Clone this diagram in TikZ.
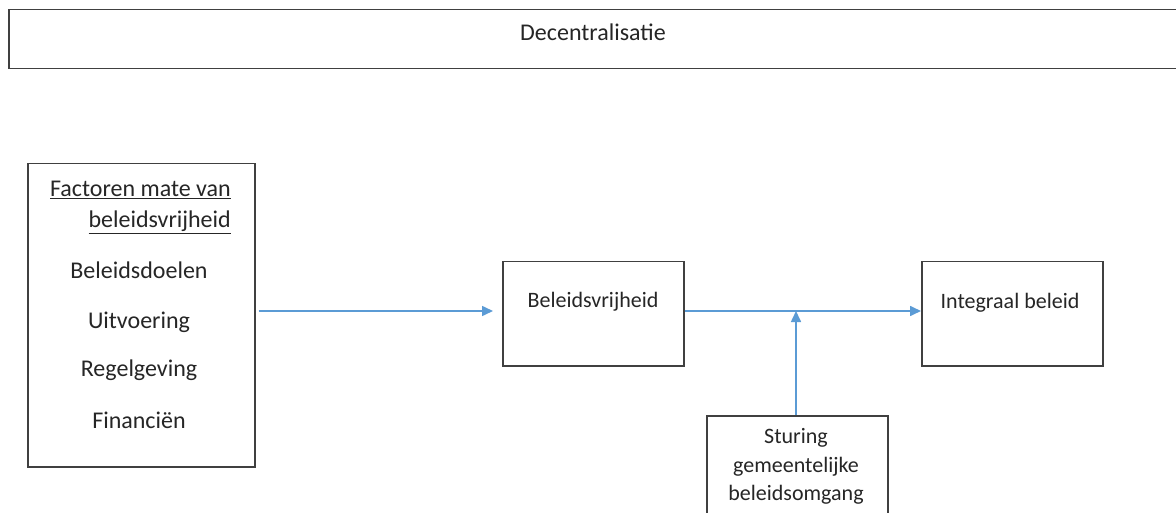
\documentclass[tikz,border=0pt]{standalone}
\usepackage{fontspec}
\setmainfont{Carlito}
\usetikzlibrary{arrows.meta,calc}
\definecolor{arrblue}{RGB}{91,155,213}
\definecolor{boxgray}{RGB}{64,64,64}
\definecolor{txt}{RGB}{38,38,38}
\begin{document}
\begin{tikzpicture}[x=1pt,y=-1pt,
  box/.style={draw=boxgray,line width=1.5pt,fill=white,inner sep=0pt,anchor=north west},
  lbl/.style={text=txt,font=\fontsize{24}{28}\selectfont,inner sep=0pt},
  slbl/.style={text=txt,font=\fontsize{22}{26}\selectfont,inner sep=0pt},
  arr/.style={draw=arrblue,line width=1.6pt,-{Triangle[length=11pt,width=10pt]}}]
\useasboundingbox (0,0) rectangle (1176,513);
\clip (0,0) rectangle (1176,513);
\fill[white] (0,0) rectangle (1176,513);
% boxes
\node[box,minimum width=1200pt,minimum height=59pt] (dec) at (8,9) {};
\node[box,minimum width=227pt,minimum height=303pt] (fac) at (27,163) {};
\node[box,minimum width=181pt,minimum height=104pt] (bv) at (502,261) {};
\node[box,minimum width=181pt,minimum height=104pt] (int) at (921,261) {};
\node[box,minimum width=181pt,minimum height=130pt] (stu) at (706,415) {};
% texts
\node[lbl] (tdec) at (593,32) {Decentralisatie};
\node[lbl,anchor=east] (tf1) at (231,190) {\underline{Factoren mate van}};
\node[lbl,anchor=east] (tf2) at (231,222) {\underline{beleidsvrijheid}};
\node[lbl] (tf3) at (139,270) {Beleidsdoelen};
\node[lbl] (tf4) at (139,322) {Uitvoering};
\node[lbl] (tf5) at (139,370) {Regelgeving};
\node[lbl] (tf6) at (139,420) {Financiën};
\node[slbl] (tbv) at (593,302) {Beleidsvrijheid};
\node[slbl] (tint) at (1010,303) {Integraal beleid};
\node[slbl] (ts1) at (796,438) {Sturing};
\node[slbl] (ts2) at (796,467) {gemeentelijke};
\node[slbl] (ts3) at (796,495) {beleidsomgang};
% connectors
\coordinate (s) at (796,415);
\coordinate (j) at (796,311);
\draw[arr,shorten <=3pt,shorten >=9pt] (fac.east |- j) -- (bv.west |- j);
\draw[arr] (bv.east |- j) -- (int.west |- j);
\draw[arr] (s) -- (j);
\end{tikzpicture}
\end{document}
